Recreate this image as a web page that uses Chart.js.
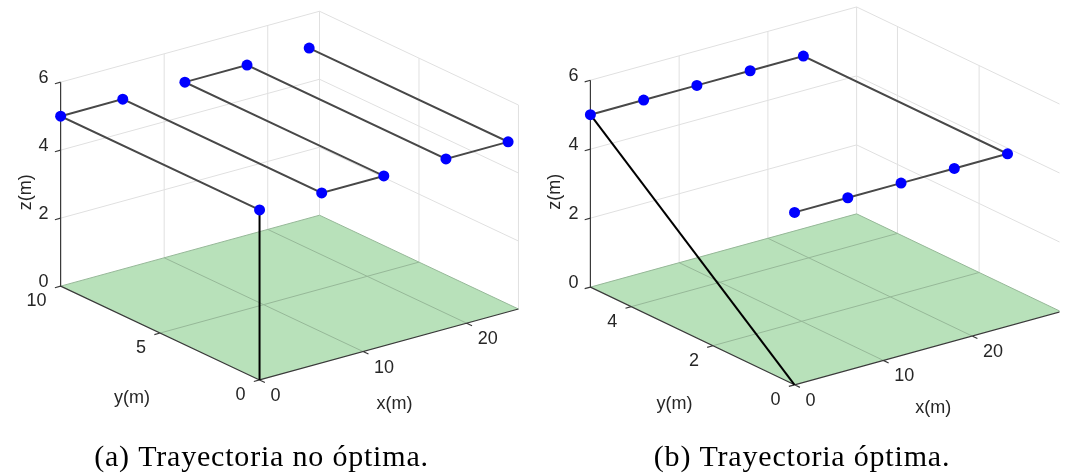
<!DOCTYPE html>
<html>
<head>
<meta charset="utf-8">
<script src="https://cdn.jsdelivr.net/npm/chart.js@4.4.1/dist/chart.umd.min.js"></script>
<style>
  html, body { margin: 0; padding: 0; background: #fff; }
  #wrap { position: relative; width: 1065px; height: 475px; }
</style>
</head>
<body>
<div id="wrap"><canvas id="graf" width="1065" height="475"></canvas></div>
<script>
// recorrido (a): barrido en zigzag, sube primero en vertical
const rutaA_x = [0, 0, 0, 6, 6, 12, 12, 18, 18, 24, 24];
const rutaA_y = [0, 0, 10, 10, 0, 0, 10, 10, 0, 0, 10];
const rutaA_z = [0, 5, 5, 5, 5, 5, 5, 5, 5, 5, 5];

// recorrido (b): sube en diagonal y hace una sola vuelta
const rutaB_x = [0, 0, 6, 12, 18, 24, 24, 18, 12, 6, 0];
const rutaB_y = [0, 5, 5, 5, 5, 5, 0, 0, 0, 0, 0];
const rutaB_z = [0, 5, 5, 5, 5, 5, 5, 5, 5, 5, 5];

// limites de los ejes
const limA = [25, 10, 6];
const limB = [30, 5, 6];

// marcas de los ejes
const ticksXA = [0, 10, 20];
const ticksYA = [0, 5, 10];
const ticksXB = [0, 10, 20];
const ticksYB = [0, 2, 4];
const ticksZ = [0, 2, 4, 6];

const titulos = ['x(m)', 'y(m)', 'z(m)'];
const pies = ['(a) Trayectoria no óptima.', '(b) Trayectoria óptima.'];

const W = 1065, H = 475;

// caja 3D de cada subfigura: esquina (0,0,0) en pantalla y aristas completas
const cajaA = {
  o: [256.7, 383.3], ex: [261.6, -72.6], ey: [-201, -96], ez: [0, -208.8],
  lim: limA, tx: ticksXA, ty: ticksYA, tz: ticksZ,
  offX: [5.5, 60], offY: [-28, 65], offZ: [-35, 8], pie: [261.5, 466]
};
const cajaB = {
  o: [797.3, 388.3], ex: [269, -75], ey: [-206.3, -100], ez: [0, -211.8],
  lim: limB, tx: ticksXB, ty: ticksYB, tz: ticksZ,
  offX: [5.5, 60], offY: [-18, 68], offZ: [-35, 8], pie: [802, 466]
};

// proyeccion ortografica de un punto (x,y,z) de datos a pixeles
function proy(c, x, y, z) {
  const [X, Y, Z] = c.lim;
  return {
    x: c.o[0] + c.ex[0] * x / X + c.ey[0] * y / Y + c.ez[0] * z / Z,
    y: c.o[1] + c.ex[1] * x / X + c.ey[1] * y / Y + c.ez[1] * z / Z
  };
}

function unit(v) {
  const n = Math.hypot(v[0], v[1]);
  return [v[0] / n, v[1] / n];
}

// lista de segmentos 3D -> puntos con cortes
function tramos(c, segs) {
  const out = [];
  segs.forEach(([a, b]) => {
    out.push(proy(c, ...a), proy(c, ...b), { x: NaN, y: NaN });
  });
  return out;
}

function rejillaFondo(c) {
  const [X, Y, Z] = c.lim, s = [];
  c.tx.filter(v => v > 0).concat([X]).forEach(v => s.push([[v, Y, 0], [v, Y, Z]]));
  c.tz.filter(v => v > 0).forEach(v => s.push([[0, Y, v], [X, Y, v]]));
  c.ty.filter(v => v < Y).forEach(v => s.push([[X, v, 0], [X, v, Z]]));
  c.tz.filter(v => v > 0).forEach(v => s.push([[X, 0, v], [X, Y, v]]));
  return s;
}

function rejillaSuelo(c) {
  const [X, Y] = c.lim, s = [];
  c.tx.filter(v => v > 0 && v < X).forEach(v => s.push([[v, 0, 0], [v, Y, 0]]));
  c.ty.filter(v => v > 0 && v < Y).forEach(v => s.push([[0, v, 0], [X, v, 0]]));
  s.push([[0, Y, 0], [X, Y, 0]], [[X, 0, 0], [X, Y, 0]]);
  return s;
}

// ejes oscuros con sus marcas
function ejes(c) {
  const [X, Y, Z] = c.lim, pts = [];
  const L = 6;
  const dx = unit(c.ex), dy = unit(c.ey);
  [[[0, Y, 0], [0, Y, Z]], [[0, 0, 0], [0, Y, 0]], [[0, 0, 0], [X, 0, 0]]].forEach(([a, b]) => {
    pts.push(proy(c, ...a), proy(c, ...b), { x: NaN, y: NaN });
  });
  const marca = (p, d) => {
    pts.push(p, { x: p.x + d[0] * L, y: p.y + d[1] * L }, { x: NaN, y: NaN });
  };
  c.tz.forEach(v => marca(proy(c, 0, Y, v), [-dx[0], -dx[1]]));
  c.ty.forEach(v => marca(proy(c, 0, v, 0), [-dx[0], -dx[1]]));
  c.tx.forEach(v => marca(proy(c, v, 0, 0), [-dy[0], -dy[1]]));
  return pts;
}

function suelo(c) {
  const [X, Y] = c.lim;
  return [proy(c, 0, 0, 0), proy(c, X, 0, 0), proy(c, X, Y, 0), proy(c, 0, Y, 0), proy(c, 0, 0, 0)];
}

function ruta(c, xs, ys, zs) {
  return xs.map((v, i) => proy(c, v, ys[i], zs[i]));
}

const linea = (data, color, ancho, orden, extra) => Object.assign({
  data, showLine: true, borderColor: color, borderWidth: ancho, pointRadius: 0,
  spanGaps: false, fill: false, order: orden, borderCapStyle: 'butt'
}, extra || {});

const datasets = [];
[[cajaA, rutaA_x, rutaA_y, rutaA_z], [cajaB, rutaB_x, rutaB_y, rutaB_z]].forEach(([c, xs, ys, zs]) => {
  const r = ruta(c, xs, ys, zs);
  datasets.push(linea(tramos(c, rejillaFondo(c)), '#e0e0e0', 1, 90));
  datasets.push(linea(suelo(c), 'rgba(0,0,0,0)', 0, 80, {
    fill: 'shape', backgroundColor: 'rgb(184,225,186)'
  }));
  datasets.push(linea(tramos(c, rejillaSuelo(c)), 'rgb(150,184,152)', 1, 70));
  datasets.push(linea(ejes(c), '#3a3a3a', 1.2, 60));
  datasets.push(linea(r.slice(1), '#484848', 2, 50));
  datasets.push(linea(r.slice(0, 2), '#000', 2, 40));
  datasets.push({
    data: r.slice(1), showLine: false, pointRadius: 5.5, pointBackgroundColor: '#0000ff',
    pointBorderWidth: 0, order: 10
  });
});

// textos de ejes y pies de figura
const textos = {
  id: 'textos',
  afterDatasetsDraw(chart) {
    const g = chart.ctx;
    const sx = chart.scales.x, sy = chart.scales.y;
    const px = p => ({ x: sx.getPixelForValue(p.x), y: sy.getPixelForValue(p.y) });
    g.save();
    g.fillStyle = '#262626';
    g.font = '18px "Liberation Sans", Arial, sans-serif';
    [cajaA, cajaB].forEach(c => {
      const [X, Y, Z] = c.lim;
      g.textAlign = 'right'; g.textBaseline = 'middle';
      c.tz.forEach(v => { const p = px(proy(c, 0, Y, v)); g.fillText(String(v), p.x - 12, p.y - 4); });
      c.ty.forEach(v => { const p = px(proy(c, 0, v, 0)); g.fillText(String(v), p.x - 14, p.y + 15); });
      g.textAlign = 'left';
      c.tx.forEach(v => { const p = px(proy(c, v, 0, 0)); g.fillText(String(v), p.x + 11, p.y + 16); });
      g.textAlign = 'center';
      let p = px(proy(c, X / 2, 0, 0));
      g.fillText(titulos[0], p.x + c.offX[0], p.y + c.offX[1]);
      p = px(proy(c, 0, Y / 2, 0));
      g.fillText(titulos[1], p.x + c.offY[0], p.y + c.offY[1]);
      p = px(proy(c, 0, Y, Z / 2));
      g.save();
      g.translate(p.x + c.offZ[0], p.y + c.offZ[1]);
      g.rotate(-Math.PI / 2);
      g.fillText(titulos[2], 0, 0);
      g.restore();
    });
    g.fillStyle = '#000';
    g.font = '30px "Liberation Serif", "Times New Roman", serif';
    g.textAlign = 'center'; g.textBaseline = 'alphabetic';
    g.letterSpacing = '0.8px';
    [cajaA, cajaB].forEach((c, i) => g.fillText(pies[i], c.pie[0], c.pie[1]));
    g.restore();
  }
};

new Chart(document.getElementById('graf').getContext('2d'), {
  type: 'scatter',
  data: { datasets },
  options: {
    responsive: false,
    animation: false,
    events: [],
    layout: { padding: 0 },
    plugins: { legend: { display: false }, tooltip: { enabled: false } },
    scales: {
      x: { type: 'linear', min: 0, max: W, display: false },
      y: { type: 'linear', min: 0, max: H, reverse: true, display: false }
    }
  },
  plugins: [textos]
});
</script>
</body>
</html>
